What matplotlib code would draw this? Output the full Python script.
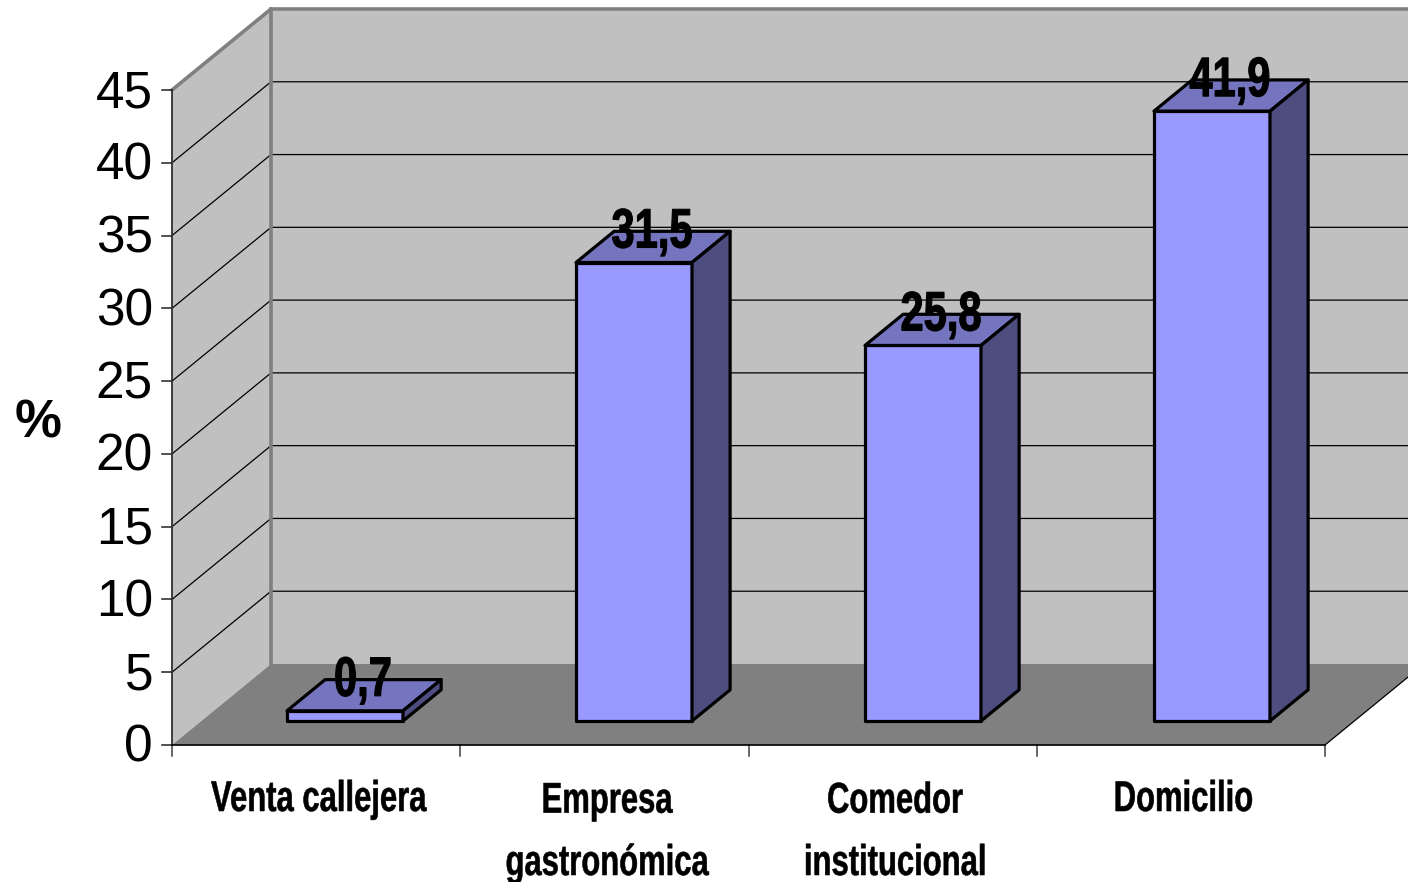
import matplotlib as mpl
import matplotlib.pyplot as plt
from matplotlib.patheffects import AbstractPathEffect
from matplotlib.transforms import Affine2D

mpl.rcParams["font.family"] = ["Liberation Sans", "DejaVu Sans"]

categories = ["Venta callejera", "Empresa\ngastronómica", "Comedor\ninstitucional", "Domicilio"]
values = [0.7, 31.5, 25.8, 41.9]
value_labels = ["0,7", "31,5", "25,8", "41,9"]
yticks = [0, 5, 10, 15, 20, 25, 30, 35, 40, 45]

W, H = 1408, 882
X0, X1 = 172, 1325      # front edge of the floor, px
Y0, Y45 = 745, 90       # value 0 and 45 on the front plane, px
DX, DY = 99, 81         # wall depth, px
PX_X = (X1 - X0) / len(categories)
PX_Y = (Y0 - Y45) / 45
BAR_PITCH = 289 / PX_X
BAR_START = 115 / PX_X
BAR_W = 116 / PX_X
BAR_BASE = 24 / PX_Y
BAR_DEPTH = 0.385
LINE_STEP = 64          # px between the lines of a category label


class Squeeze(AbstractPathEffect):
    # narrow a text line around its own centre, Arial Narrow style
    def __init__(self, sx, bold=0.0):
        super().__init__()
        self.sx = sx
        self.bold = bold

    def draw_path(self, renderer, gc, tpath, affine, rgbFace=None):
        box = tpath.transformed(affine).get_extents()
        cx = (box.x0 + box.x1) / 2
        squeezed = affine + Affine2D().translate(-cx, 0).scale(self.sx, 1).translate(cx, 0)
        gc2 = renderer.new_gc()
        gc2.copy_properties(gc)
        gc2.set_linewidth(self.bold)
        gc2.set_foreground(rgbFace)
        renderer.draw_path(gc2, tpath, squeezed, rgbFace)
        gc2.restore()


def depth(x, y, d):
    # shift a point of the front plane towards the back wall, d in 0..1
    return x + d * DX / PX_X, y + d * DY / PX_Y


def face(ax, pts, **kw):
    ax.fill(*zip(*pts), clip_on=False, **kw)


fig = plt.figure(figsize=(W / 100, H / 100), dpi=100)
ax = fig.add_axes([X0 / W, 1 - Y0 / H, (X1 - X0) / W, (Y0 - Y45) / H])
ax.set_xlim(0, len(categories))
ax.set_ylim(0, 45)
ax.axis("off")

n = len(categories)
top_val = yticks[-1]

# back wall, side wall and floor
face(ax, [depth(0, 0, 1), depth(n, 0, 1), depth(n, top_val, 1), depth(0, top_val, 1)],
     color="#c0c0c0", lw=0, zorder=1)
face(ax, [(0, 0), depth(0, 0, 1), depth(0, top_val, 1), (0, top_val)], color="#c0c0c0", lw=0, zorder=1)
face(ax, [(0, 0), (n, 0), depth(n, 0, 1), depth(0, 0, 1)], color="#808080", lw=0, zorder=2)

# gridlines along the side wall and the back wall
for v in yticks[1:-1]:
    a, b = depth(0, v, 0), depth(0, v, 1)
    c = depth(n, v, 1)
    ax.plot([a[0], b[0], c[0]], [a[1], b[1], c[1]], color="black", lw=0.9, clip_on=False, zorder=2)

# wall outline
a, b, c = (0, top_val), depth(0, top_val, 1), depth(n, top_val, 1)
ax.plot([a[0], b[0], c[0]], [a[1], b[1], c[1]], color="#808080", lw=2.6, clip_on=False, zorder=3)
d0 = depth(0, 0, 1)
ax.plot([b[0], d0[0]], [b[1], d0[1]], color="#808080", lw=2.6, clip_on=False, zorder=3)

# value axis, ticks and labels
ax.plot([0, 0], [0, top_val], color="#303030", lw=1.3, clip_on=False, zorder=4)
for v in yticks:
    ax.plot([-10 / PX_X, 0], [v, v], color="#202020", lw=1.1, clip_on=False, zorder=3)
    ax.text(-19 / PX_X, v - 3.5 / PX_Y, str(v), ha="right", va="center", fontsize=37, clip_on=False)
ax.text(-134 / PX_X, 22.1, "%", ha="center", va="center", fontsize=38, fontweight="bold", clip_on=False)

# category axis
e = depth(n, 0, 1)
ax.plot([0, n], [0, 0], color="black", lw=1.2, clip_on=False, zorder=4)
ax.plot([n, e[0]], [0, e[1]], color="black", lw=0.9, clip_on=False, zorder=4)
for i in range(n + 1):
    ax.plot([i, i], [0, -11 / PX_Y], color="#404040", lw=1.1, clip_on=False, zorder=3)

# bars as three faces: front, top and right side
for i, (val, lab, cat) in enumerate(zip(values, value_labels, categories)):
    l = BAR_START + i * BAR_PITCH
    r = l + BAR_W
    top = BAR_BASE + val
    kw = dict(ec="black", lw=2.3, joinstyle="round", zorder=5)
    face(ax, [(l, BAR_BASE), (r, BAR_BASE), (r, top), (l, top)], fc="#9999ff", **kw)
    face(ax, [(l, top), (r, top), depth(r, top, BAR_DEPTH), depth(l, top, BAR_DEPTH)], fc="#7575bf", **kw)
    face(ax, [(r, BAR_BASE), depth(r, BAR_BASE, BAR_DEPTH), depth(r, top, BAR_DEPTH), (r, top)],
         fc="#4d4d80", **kw)
    t = ax.text(l + 76 / PX_X, top + 15 / PX_Y, lab, ha="center", va="baseline", fontsize=40,
                fontweight="bold", clip_on=False, zorder=6)
    t.set_path_effects([Squeeze(0.75, bold=0.8)])
    # the baseline anchor sits on the last line of the label
    last_line = -(66 + LINE_STEP * cat.count("\n")) / PX_Y
    t = ax.text(i + 0.5 + 2 / PX_X, last_line, cat, ha="center", va="baseline", fontsize=31,
                fontweight="bold", linespacing=1.72, clip_on=False, zorder=6)
    t.set_path_effects([Squeeze(0.72, bold=0.4)])

fig.savefig("out.png", dpi=100)
